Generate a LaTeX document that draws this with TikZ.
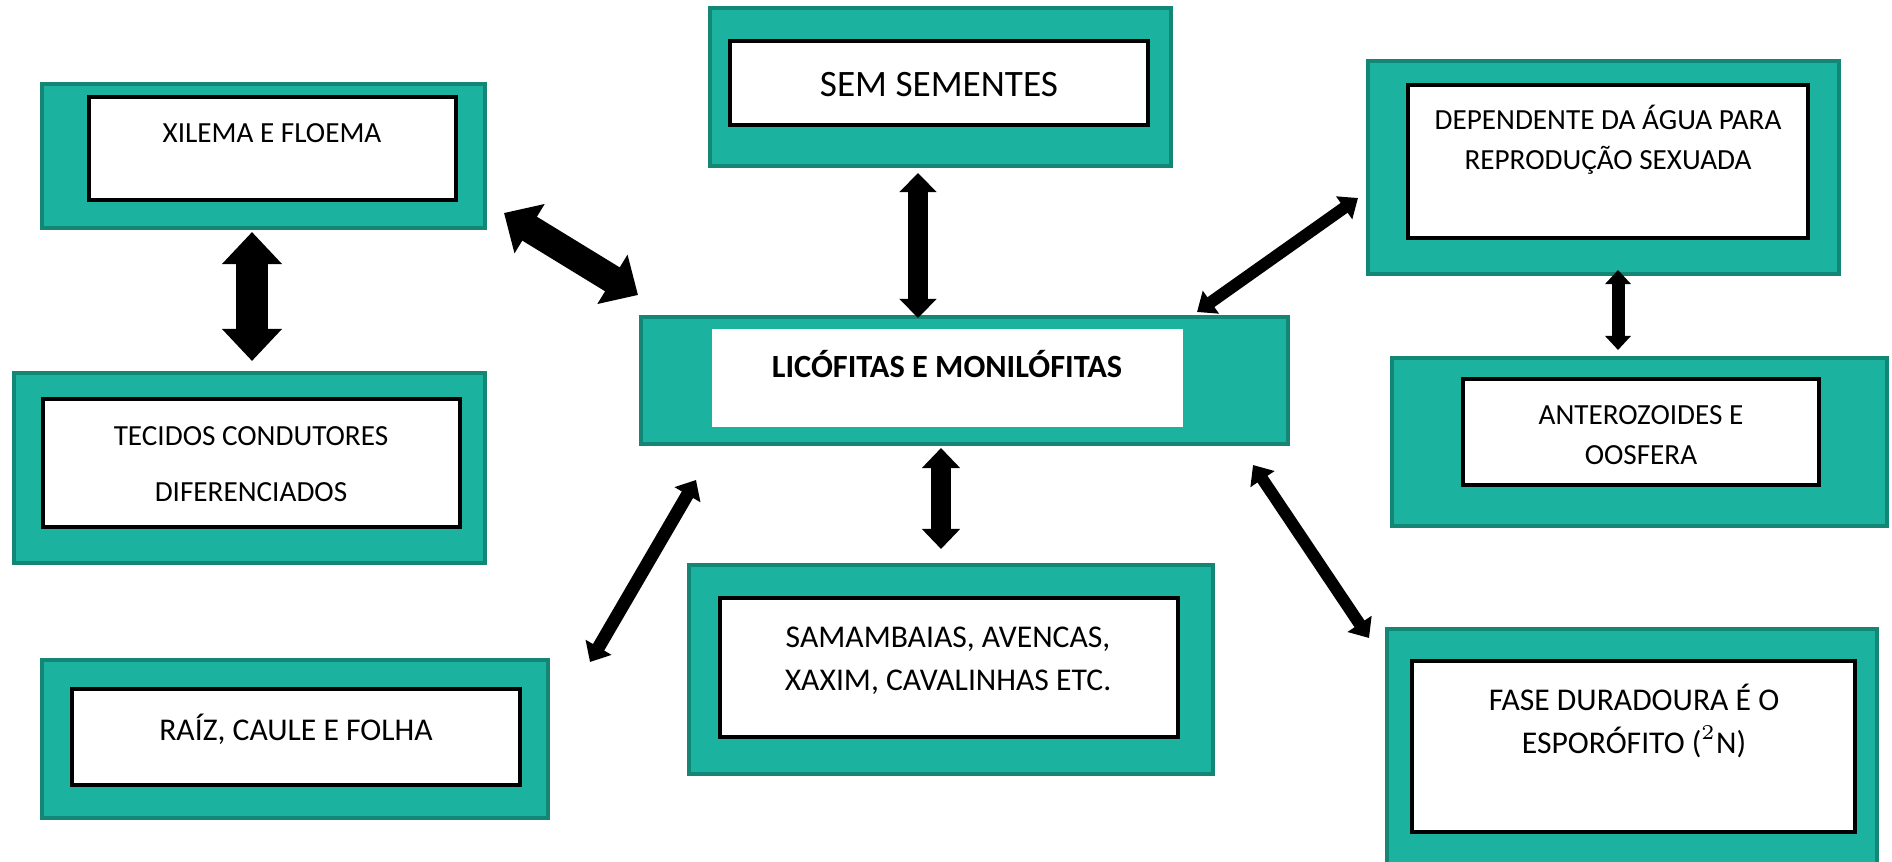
\documentclass[tikz,border=0pt]{standalone}
\usepackage{fontspec}
\setmainfont{Carlito}
\usetikzlibrary{arrows.meta}
\definecolor{tealfill}{RGB}{27,179,159}
\definecolor{tealedge}{RGB}{20,134,117}
\newcommand{\fsz}[2]{\fontsize{#1}{#2}\selectfont}
\begin{document}
\begin{tikzpicture}[x=0.01cm,y=-0.01cm,
  outerbox/.style={draw=tealedge, fill=tealfill, line width=0.04cm, inner sep=0pt},
  innerbox/.style={draw=black, fill=white, line width=0.045cm, inner sep=0pt},
  plainbox/.style={fill=white, inner sep=0pt},
  lbl/.style={inner sep=0pt, align=center, text=black, anchor=base},
  blockarrow/.style n args={3}{line width=#1cm, arrows={Triangle[width=#2cm,length=#3cm]-Triangle[width=#2cm,length=#3cm]}}]
\useasboundingbox (0,0) rectangle (1892,861);
\clip (0,0) rectangle (1892,861);

% XILEMA E FLOEMA
\node[outerbox, minimum width=4.43cm, minimum height=1.44cm] (xilO) at (263.5,156) {};
\node[innerbox, minimum width=3.665cm, minimum height=1.025cm] (xilI) at (272.5,148.5) {};
\node[lbl, font=\fsz{8.3}{10}] (xilT) at (272,143) {XILEMA E FLOEMA};

% TECIDOS CONDUTORES
\node[outerbox, minimum width=4.71cm, minimum height=1.90cm] (tecO) at (249.5,468) {};
\node[innerbox, minimum width=4.165cm, minimum height=1.275cm] (tecI) at (251.5,463) {};
\node[lbl, font=\fsz{8.3}{15.9}] (tecT) at (251,501) {TECIDOS CONDUTORES\\DIFERENCIADOS};

% RAIZ
\node[outerbox, minimum width=5.06cm, minimum height=1.58cm] (raiO) at (295,739) {};
\node[innerbox, minimum width=4.475cm, minimum height=0.955cm] (raiI) at (296,737) {};
\node[lbl, font=\fsz{9}{11}] (raiT) at (296,740) {RAÍZ, CAULE E FOLHA};

% SEM SEMENTES
\node[outerbox, minimum width=4.61cm, minimum height=1.58cm] (semO) at (940.5,87) {};
\node[innerbox, minimum width=4.175cm, minimum height=0.835cm] (semI) at (939,83) {};
\node[lbl, font=\fsz{10.6}{12}] (semT) at (939,97) {SEM SEMENTES};

% CENTRAL
\node[outerbox, minimum width=6.47cm, minimum height=1.27cm] (cenO) at (964.5,380.5) {};
\node[plainbox, minimum width=4.71cm, minimum height=0.98cm] (cenI) at (947.5,378) {};
\node[lbl, font=\fsz{9.2}{11}\bfseries] (cenT) at (947,377) {LICÓFITAS E MONILÓFITAS};

% SAMAMBAIAS
\node[outerbox, minimum width=5.24cm, minimum height=2.09cm] (samO) at (951,669.5) {};
\node[innerbox, minimum width=4.575cm, minimum height=1.385cm] (samI) at (949,667.5) {};
\node[lbl, font=\fsz{9}{12.2}] (samT) at (948,690) {SAMAMBAIAS, AVENCAS,\\XAXIM, CAVALINHAS ETC.};

% DEPENDENTE
\node[outerbox, minimum width=4.71cm, minimum height=2.13cm] (depO) at (1603.5,167.5) {};
\node[innerbox, minimum width=3.995cm, minimum height=1.525cm] (depI) at (1608,161.5) {};
\node[lbl, font=\fsz{8.3}{11.4}] (depT) at (1608,170) {DEPENDENTE DA ÁGUA PARA\\REPRODUÇÃO SEXUADA};

% ANTEROZOIDES
\node[outerbox, minimum width=4.95cm, minimum height=1.68cm] (antO) at (1639.5,442) {};
\node[innerbox, minimum width=3.555cm, minimum height=1.055cm] (antI) at (1641,432) {};
\node[lbl, font=\fsz{8.3}{11.1}] (antT) at (1641,464) {ANTEROZOIDES E\\OOSFERA};

% FASE DURADOURA
\node[outerbox, minimum width=4.90cm, minimum height=2.69cm] (fasO) at (1632,763.5) {};
\node[innerbox, minimum width=4.425cm, minimum height=1.705cm] (fasI) at (1633.5,746.5) {};
\node[lbl, font=\fsz{9}{12.2}] (fasT) at (1634,753) {FASE DURADOURA É O\\ESPORÓFITO ($^{2}$N)};

% arrow end points
\coordinate (a1s) at (252,232);  \coordinate (a1e) at (252,361);
\coordinate (a2s) at (504,213);  \coordinate (a2e) at (638,295);
\coordinate (a3s) at (918,173);  \coordinate (a3e) at (918,318);
\coordinate (a4s) at (941,448);  \coordinate (a4e) at (941,549);
\coordinate (a5s) at (696,480);  \coordinate (a5e) at (590,662);
\coordinate (a6s) at (1253,465); \coordinate (a6e) at (1369,638);
\coordinate (a7s) at (1358,198); \coordinate (a7e) at (1197,312);
\coordinate (a8s) at (1618,270); \coordinate (a8e) at (1618,350);

\draw[blockarrow={0.32}{0.58}{0.32}] (a1s) -- (a1e);
\draw[blockarrow={0.28}{0.56}{0.30}] (a2s) -- (a2e);
\draw[blockarrow={0.20}{0.36}{0.19}] (a3s) -- (a3e);
\draw[blockarrow={0.20}{0.37}{0.20}] (a4s) -- (a4e);
\draw[blockarrow={0.13}{0.29}{0.17}] (a5s) -- (a5e);
\draw[blockarrow={0.12}{0.28}{0.17}] (a6s) -- (a6e);
\draw[blockarrow={0.12}{0.27}{0.17}] (a7s) -- (a7e);
\draw[blockarrow={0.13}{0.25}{0.14}] (a8s) -- (a8e);
\end{tikzpicture}
\end{document}
